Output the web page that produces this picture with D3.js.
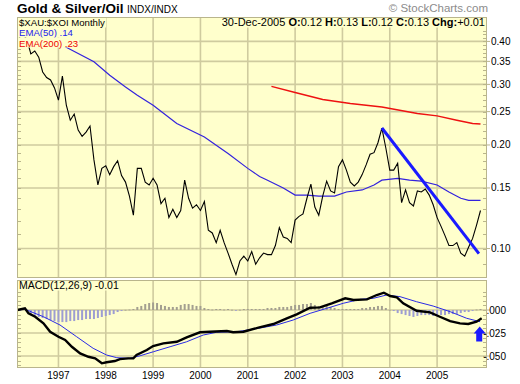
<!DOCTYPE html>
<html><head><meta charset="utf-8">
<script src="https://cdn.jsdelivr.net/npm/d3@7/dist/d3.min.js"></script>
<style>body{margin:0;background:#fff;}svg{display:block;font-family:"Liberation Sans",Arial,sans-serif;}</style>
</head><body>
<svg id="c" width="520" height="384"></svg>
<script>
// month index 0 = Mar 1996, 117 = Dec 2005
const priceValues = [
0.410,0.420,0.405,0.368,0.375,0.360,0.326,0.314,0.309,0.293,
0.270,0.317,0.261,0.236,0.246,0.221,0.212,0.218,0.227,0.181,
0.153,0.171,0.174,0.164,0.173,0.180,0.163,0.156,0.142,0.125,
0.171,0.171,0.156,0.153,0.160,0.153,0.135,0.140,0.123,0.130,
0.123,0.129,0.158,0.140,0.131,0.134,0.129,0.137,0.113,0.111,
0.104,0.113,0.104,0.097,0.090,0.084,0.092,0.095,0.092,0.098,
0.090,0.094,0.097,0.096,0.096,0.102,0.115,0.108,0.107,0.104,
0.121,0.124,0.126,0.140,0.154,0.132,0.125,0.142,0.157,0.147,
0.145,0.173,0.181,0.169,0.156,0.152,0.156,0.164,0.175,0.188,
0.190,0.203,0.224,0.196,0.169,0.169,0.177,0.136,0.148,0.136,
0.133,0.147,0.146,0.149,0.143,0.134,0.123,0.116,0.109,0.102,
0.102,0.104,0.097,0.095,0.101,0.107,0.117,0.129];
const ema50Months = [11,19,23,27,30,34,40,47,53,58,61,63,67,70,73,76,80,83,87,90,92,96,99,102,106,109,112,114,117];
const ema50Values = [0.390,0.349,0.319,0.295,0.279,0.261,0.231,0.211,0.189,0.171,0.162,0.158,0.150,0.143,0.143,0.142,0.142,0.146,0.148,0.153,0.158,0.160,0.158,0.157,0.153,0.146,0.140,0.138,0.138];
const ema200Months = [64,70,77,84,92,101,106,111,115,117];
const ema200Values = [0.296,0.284,0.271,0.264,0.258,0.247,0.243,0.236,0.231,0.230];
const trendMonths = [92,116.6];
const trendValues = [0.224,0.0966];
const macdMonths = [-0.4,1.5,2.4,4.1,6.2,7.9,10,11.7,13.4,15.5,17.6,19.3,21,22.2,24.3,25.6,27.7,29,29.8,32.4,34,36.6,40,42.5,45.9,48.4,52.7,54.3,56.9,60.7,64.5,67.9,70.4,73.8,76.3,79.3,82.7,84.8,88.2,90.7,92.5,94.1,95.8,97.4,100.8,104.2,106.7,109.3,111.8,113.9,116,117.3];
const macdValues = [0,0.0018,-0.0036,-0.0073,-0.0145,-0.0236,-0.0290,-0.0326,-0.0399,-0.0471,-0.0508,-0.0525,-0.0579,-0.0568,-0.0554,-0.0533,-0.0525,-0.0525,-0.0489,-0.0435,-0.0391,-0.0362,-0.0345,-0.0297,-0.0242,-0.0236,-0.0228,-0.0242,-0.0236,-0.0192,-0.0152,-0.0090,-0.0047,0.0025,0.0029,0.0073,0.0127,0.0109,0.0116,0.0163,0.0188,0.0152,0.0138,0.0073,-0.0008,-0.0025,-0.0073,-0.0120,-0.0145,-0.0152,-0.0127,-0.0090];
const signalMonths = [-0.4,1.5,6.2,10.4,14.6,18.8,22.2,24.8,28.1,30.7,34.1,38.3,42.5,46.7,50.1,55.2,60.7,65.3,69.5,73.8,78,82.2,86.5,89.8,93.2,96.6,100.8,105,109.3,113.5,116.9];
const signalValues = [0,0.0008,-0.0073,-0.0163,-0.0290,-0.0416,-0.0489,-0.0518,-0.0525,-0.0497,-0.0453,-0.0399,-0.0345,-0.0272,-0.0242,-0.0236,-0.0199,-0.0163,-0.0109,-0.0036,0.0018,0.0073,0.0116,0.0127,0.0163,0.0145,0.0090,0.0043,-0.0018,-0.0090,-0.0127];
const histValues = [
0.0005,0.0005,-0.0011,-0.0044,-0.0065,-0.0076,-0.0087,-0.0098,-0.0109,-0.0120,
-0.0131,-0.0131,-0.0131,-0.0120,-0.0120,-0.0109,-0.0109,-0.0098,-0.0098,-0.0098,
-0.0087,-0.0076,-0.0065,-0.0055,-0.0044,-0.0022,-0.0011,0.0002,0.0005,0.0011,
0.0033,0.0044,0.0065,0.0076,0.0082,0.0076,0.0055,0.0044,0.0033,0.0033,
0.0033,0.0055,0.0065,0.0065,0.0055,0.0044,0.0044,0.0022,0.0011,0.0005,
0.0011,0.0011,0.0005,0.0011,0.0003,-0.0003,0.0003,0.0011,0.0011,0.0011,
0.0011,0.0011,0.0011,0.0022,0.0022,0.0022,0.0033,0.0033,0.0033,0.0044,
0.0055,0.0055,0.0065,0.0065,0.0076,0.0055,0.0044,0.0044,0.0044,0.0033,
0.0022,0.0011,0.0011,0.0011,0.0011,0.0011,0.0011,0.0022,0.0022,0.0033,
0.0033,0.0044,0.0044,0.0022,0.0002,-0.0011,-0.0033,-0.0044,-0.0055,-0.0065,
-0.0076,-0.0065,-0.0055,-0.0055,-0.0055,-0.0065,-0.0065,-0.0055,-0.0055,-0.0044,
-0.0044,-0.0044,-0.0033,-0.0022,-0.0022,-0.0011,0.0005,0.0011];
const years = [1997,1998,1999,2000,2001,2002,2003,2004,2005];
const priceTicks = [0.10,0.15,0.20,0.25,0.30,0.35,0.40];
const priceTickLabels = ["0.10","0.15","0.20","0.25","0.30","0.35","0.40"];
const macdTicks = [0,-0.025,-0.05];
const macdTickLabels = [".000","-.025","-.050"];
const arrowAnchor = [116.8,-0.018];

const svg = d3.select('#c');
const pL=17,pR=487,pT=17,pB=278,mT=280,mB=368;
const gridC="#cfcb9f", borderC="#b9b58c", panelC="#ffffcc";
const x = d3.scaleLinear().domain([0,117]).range([19,480.5]);
const y = d3.scaleLog().domain([0.0821,0.471]).range([pB,pT]);
const ym = d3.scaleLinear().domain([-0.063,0.0326]).range([mB,mT]);
const yearMonth = yr => (yr-1997)*12+10;

// panels
svg.append('rect').attr('x',pL).attr('y',pT).attr('width',pR-pL).attr('height',pB-pT).attr('fill',panelC);
svg.append('rect').attr('x',pL).attr('y',mT).attr('width',pR-pL).attr('height',mB-mT).attr('fill',panelC);

const grid = svg.append('g').attr('stroke',gridC).attr('stroke-width',1.6);
priceTicks.forEach(v=>grid.append('line').attr('x1',pL).attr('x2',pR).attr('y1',y(v)).attr('y2',y(v)));
macdTicks.forEach(v=>grid.append('line').attr('x1',pL).attr('x2',pR).attr('y1',ym(v)).attr('y2',ym(v)));
years.forEach(yr=>{
  const xx=x(yearMonth(yr));
  grid.append('line').attr('x1',xx).attr('x2',xx).attr('y1',pT).attr('y2',pB);
  grid.append('line').attr('x1',xx).attr('x2',xx).attr('y1',mT).attr('y2',mB);
});

// minor ticks
const tk = svg.append('g').attr('stroke',borderC).attr('stroke-width',1);
d3.range(9,47).map(d=>d/100).forEach(v=>{
  const yy=Math.round(y(v))+0.5;
  if(yy<pT+12||yy>pB) return;
  tk.append('line').attr('x1',pR-4).attr('x2',pR).attr('y1',yy).attr('y2',yy);
  tk.append('line').attr('x1',pL).attr('x2',pL+4).attr('y1',yy).attr('y2',yy);
});
d3.range(-12,7).map(d=>d*0.005).forEach(v=>{
  const yy=Math.round(ym(v))+0.5;
  if(yy<mT+10||yy>mB) return;
  tk.append('line').attr('x1',pR-4).attr('x2',pR).attr('y1',yy).attr('y2',yy);
  tk.append('line').attr('x1',pL).attr('x2',pL+4).attr('y1',yy).attr('y2',yy);
});
priceTicks.forEach(v=>tk.append('line').attr('x1',pR).attr('x2',pR+3).attr('y1',y(v)).attr('y2',y(v)));
macdTicks.forEach(v=>tk.append('line').attr('x1',pR).attr('x2',pR+3).attr('y1',ym(v)).attr('y2',ym(v)));

// price panel lines
svg.append('clipPath').attr('id','pc').append('rect').attr('x',pL).attr('y',pT).attr('width',pR-pL).attr('height',pB-pT);
const gp = svg.append('g').attr('clip-path','url(#pc)');
const lineP = d3.line().x(d=>x(d[0])).y(d=>y(d[1]));
gp.append('path').datum(ema200Months.map((m,i)=>[m,ema200Values[i]])).attr('d',lineP).attr('fill','none').attr('stroke','#ee1111').attr('stroke-width',1.5);
gp.append('path').datum(ema50Months.map((m,i)=>[m,ema50Values[i]])).attr('d',lineP).attr('fill','none').attr('stroke','#3322dd').attr('stroke-width',1.2);
gp.append('path').datum(priceValues.map((v,i)=>[i,v])).attr('d',lineP).attr('fill','none').attr('stroke','#000').attr('stroke-width',1.1);
gp.append('path').datum(trendMonths.map((m,i)=>[m,trendValues[i]])).attr('d',lineP).attr('fill','none').attr('stroke','#1a1aff').attr('stroke-width',3);

// MACD panel
svg.append('clipPath').attr('id','mc').append('rect').attr('x',pL).attr('y',mT).attr('width',pR-pL).attr('height',mB-mT);
const gm = svg.append('g').attr('clip-path','url(#mc)');
gm.selectAll('rect.h').data(histValues).join('rect').attr('class','h')
  .attr('x',(d,i)=>x(i)-1).attr('width',2)
  .attr('y',d=>Math.min(ym(0),ym(d))).attr('height',d=>Math.max(0.8,Math.abs(ym(d)-ym(0))))
  .attr('fill',d=>d<0?'#9d9dd2':'#a39f90');
const lineM = d3.line().x(d=>x(d[0])).y(d=>ym(d[1]));
gm.append('path').datum(signalMonths.map((m,i)=>[m,signalValues[i]])).attr('d',lineM).attr('fill','none').attr('stroke','#2a2ae6').attr('stroke-width',1);
gm.append('path').datum(macdMonths.map((m,i)=>[m,macdValues[i]])).attr('d',lineM).attr('fill','none').attr('stroke','#000').attr('stroke-width',2.4);

// arrow
const ax=x(arrowAnchor[0]), ay=ym(arrowAnchor[1]);
svg.append('path').attr('d',`M${ax},${ay} L${ax+6},${ay+7} L${ax+2.5},${ay+7} L${ax+2.5},${ay+15} L${ax-3.5},${ay+15} L${ax-3.5},${ay+7} L${ax-6},${ay+7} Z`).attr('fill','#1a1aff');

// borders
svg.append('rect').attr('x',pL+0.5).attr('y',pT+0.5).attr('width',pR-pL-1).attr('height',pB-pT-1).attr('fill','none').attr('stroke',borderC);
svg.append('rect').attr('x',pL+0.5).attr('y',mT+0.5).attr('width',pR-pL-1).attr('height',mB-mT-1).attr('fill','none').attr('stroke',borderC);

// text helper with background box
function label(xp,yp,txt,opts={}){
  const t = svg.append('text').attr('x',xp).attr('y',yp).attr('font-size',opts.size||10.5).attr('fill',opts.fill||'#000').attr('text-anchor',opts.anchor||'start').text(txt);
  if(opts.bg){
    const b=t.node().getBBox();
    svg.insert('rect',function(){return t.node();}).attr('x',b.x-1).attr('y',opts.top).attr('width',b.width+2).attr('height',opts.h).attr('fill',panelC);
  }
  return t;
}
label(19,25.5,'$XAU:$XOI Monthly',{size:9.6,bg:true,top:18,h:9.5});
label(19,36.2,'EMA(50) .14',{size:9.6,fill:'#2222ee',bg:true,top:27.5,h:10});
label(19,46.9,'EMA(200) .23',{size:9.6,fill:'#ee0000',bg:true,top:37.5,h:10});
label(19,289,'MACD(12,26,9)  -0.01',{bg:true,top:281,h:9.5});

// header right
const hdr = svg.append('text').attr('x',485).attr('y',26).attr('font-size',11).attr('text-anchor','end');
[['30-Dec-2005 ',false],['O:',true],['0.12 ',false],['H:',true],['0.13 ',false],['L:',true],['0.12 ',false],['C:',true],['0.13 ',false],['Chg:',true],['+0.01',false]]
 .forEach(([s,b])=>hdr.append('tspan').attr('font-weight',b?'bold':'normal').text(s));
{const b=hdr.node().getBBox(); svg.insert('rect',()=>hdr.node()).attr('x',b.x-1).attr('y',18).attr('width',b.width+2).attr('height',9.5).attr('fill',panelC);}

// title
svg.append('text').attr('x',17).attr('y',13).attr('font-size',13.5).attr('font-weight','bold').text('Gold & Silver/Oil');
svg.append('text').attr('x',127).attr('y',12.5).attr('font-size',10).text('INDX/INDX');
svg.append('text').attr('x',488).attr('y',12).attr('font-size',11.5).attr('fill','#8c8c8c').attr('text-anchor','end').text('\u00A9 StockCharts.com');

// axis labels
priceTicks.forEach((v,i)=>svg.append('text').attr('x',491).attr('y',y(v)+3.5).attr('font-size',10).text(priceTickLabels[i]));
macdTicks.forEach((v,i)=>svg.append('text').attr('x',506).attr('y',ym(v)+3.5).attr('font-size',10).attr('text-anchor','end').text(macdTickLabels[i]));
years.forEach(yr=>svg.append('text').attr('x',x(yearMonth(yr))).attr('y',379).attr('font-size',10).attr('text-anchor','middle').text(yr));
</script>
</body></html>
